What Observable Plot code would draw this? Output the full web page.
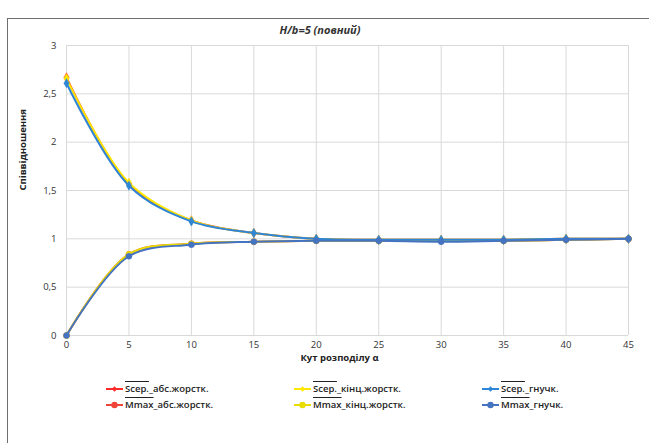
<!DOCTYPE html>
<html><head><meta charset="utf-8">
<script src="https://cdn.jsdelivr.net/npm/d3@7"></script>
<script src="https://cdn.jsdelivr.net/npm/@observablehq/plot@0.6"></script>
<style>
body{margin:0;background:#fff;font-family:"Open Sans","Liberation Sans",sans-serif;}
#wrap{position:relative;width:649px;height:443px;overflow:hidden;}
#frame{position:absolute;left:7px;top:18px;width:700px;height:500px;border-left:1px solid #6e6e6e;border-top:1px solid #6e6e6e;}
#title{position:absolute;left:0;width:640px;top:22px;text-align:center;font-size:11px;font-weight:bold;font-style:italic;color:#333;}
#chart{position:absolute;left:0;top:0;}
#legend{position:absolute;left:0;top:382px;font-size:9.5px;font-weight:600;color:#222;}
.item{position:absolute;display:flex;align-items:center;white-space:nowrap;}
.item svg{margin-right:2px;}
.ol{text-decoration:overline;}
</style></head>
<body><div id="wrap"><div id="frame"></div><div id="chart"></div><div id="title">H/b=5 (повний)</div><div id="legend"></div></div>
<script>
const alpha = [0,5,10,15,20,25,30,35,40,45];
const scepAbs   = [2.67,1.57,1.19,1.06,1.00,0.99,0.99,0.99,1.00,1.00];
const scepKinc  = [2.66,1.58,1.19,1.06,1.00,0.99,0.99,0.99,1.00,1.00];
const scepHnuch = [2.61,1.55,1.18,1.06,1.00,0.99,0.99,0.99,1.00,1.00];
const mmaxAbs   = [0,0.84,0.95,0.97,0.98,0.98,0.98,0.98,0.99,1.00];
const mmaxKinc  = [0,0.84,0.95,0.97,0.98,0.98,0.98,0.98,0.99,1.00];
const mmaxHnuch = [0,0.82,0.94,0.97,0.98,0.98,0.97,0.98,0.99,1.00];
const xTicks = [0,5,10,15,20,25,30,35,40,45];
const yTicks = [0,0.5,1,1.5,2,2.5,3];
const xLabel = "Кут розподілу α";
const yLabel = "Співвідношення";

const series = [
  {pre:"Sсер.", post:"_абс.жорстк.", vals:scepAbs, color:"#ff2a2a", sym:"diamond", r:2.8},
  {pre:"Mmax", post:"_абс.жорстк.", vals:mmaxAbs, color:"#f0443a", sym:"circle", r:3},
  {pre:"Sсер.", post:"_кінц.жорстк.", vals:scepKinc, color:"#ffe800", sym:"diamond", r:2.8},
  {pre:"Mmax", post:"_кінц.жорстк.", vals:mmaxKinc, color:"#e8dc00", sym:"circle", r:3},
  {pre:"Sсер.", post:"_гнучк.", vals:scepHnuch, color:"#2f86d6", sym:"diamond", r:2.8},
  {pre:"Mmax", post:"_гнучк.", vals:mmaxHnuch, color:"#4473c2", sym:"circle", r:3}
];

const marks = [
  Plot.gridX(xTicks, {stroke:"#d9d9d9", strokeOpacity:1}),
  Plot.gridY(yTicks, {stroke:"#d9d9d9", strokeOpacity:1}),
  Plot.axisX(xTicks, {tickSize:0, tickPadding:6, fontSize:9.5, fill:"#333", label:null}),
  Plot.axisY(yTicks, {tickSize:0, tickPadding:10, fontSize:9.5, fill:"#333", tickFormat: d => String(d).replace(".", ","), label:null}),
  Plot.text([xLabel], {frameAnchor:"bottom", dy:25, dx:-8, fontSize:9.5, fontWeight:"bold", fill:"#222"}),
  Plot.text([yLabel], {frameAnchor:"left", dx:-44, rotate:-90, fontSize:9.5, fontWeight:"bold", fill:"#222"})
];
for (const s of series) {
  const data = alpha.map((a,i)=>({a, v:s.vals[i]}));
  marks.push(Plot.line(data, {x:"a", y:"v", stroke:s.color, strokeWidth:2, curve:"catmull-rom"}));
  marks.push(Plot.dot(data, {x:"a", y:"v", fill:s.color, stroke:s.color, strokeWidth:0.5, symbol:s.sym, r:s.r}));
}

const plot = Plot.plot({
  width:649, height:372,
  marginLeft:66, marginRight:21, marginTop:45, marginBottom:37,
  x:{domain:[0,45]},
  y:{domain:[0,3]},
  style:{fontFamily:"'Open Sans','Liberation Sans',sans-serif", fontSize:"9.5px", background:"transparent", overflow:"visible"},
  marks
});
document.getElementById("chart").appendChild(plot);

const leg = document.getElementById("legend");
const cols = [106, 294, 482];
series.forEach((s,i)=>{
  const col = Math.floor(i/2), row = i%2;
  const el = document.createElement("div");
  el.className="item";
  el.style.left = cols[col]+"px";
  el.style.top = (row*16)+"px";
  const mk = s.sym==="circle" ? `<circle cx="8.5" cy="6" r="3.2" fill="${s.color}"/>` : `<path d="M8.5,3.3 L11.2,6 L8.5,8.7 L5.8,6 Z" fill="${s.color}"/>`;
  el.innerHTML = `<svg width="17" height="12"><line x1="0" y1="6" x2="17" y2="6" stroke="${s.color}" stroke-width="2"/>${mk}</svg><span><span class="ol">${s.pre}</span>${s.post}</span>`;
  leg.appendChild(el);
});
</script></body></html>
